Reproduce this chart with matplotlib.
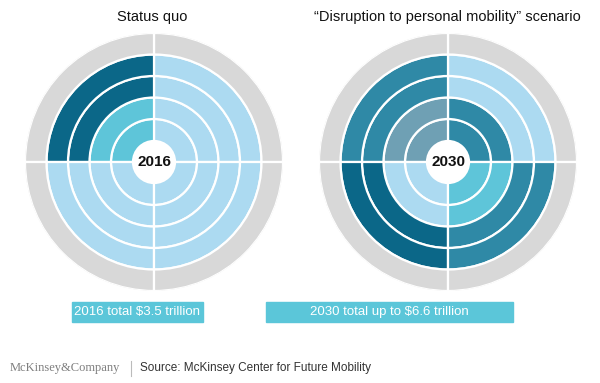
import numpy as np
import matplotlib
matplotlib.use("Agg")
import matplotlib.pyplot as plt
from matplotlib.patches import Rectangle

plt.rcParams['font.family'] = ['Liberation Sans', 'DejaVu Sans']

# quadrants (angle of the middle of each quarter, degrees) and ring edges (inner to outer)
quadrants = ['upper right', 'upper left', 'lower left', 'lower right']
quad_angles = [45, 135, 225, 315]
ring_edges = [21, 43, 64.5, 86, 107.5]
outer_edge = 129

# colour category of each ring (inner -> outer) in each quadrant
segments_2016 = [
    ['light', 'light', 'light', 'light'],   # upper right
    ['cyan', 'cyan', 'dark', 'dark'],       # upper left
    ['light', 'light', 'light', 'light'],   # lower left
    ['light', 'light', 'light', 'light'],   # lower right
]
segments_2030 = [
    ['teal', 'teal', 'light', 'light'],     # upper right
    ['slate', 'slate', 'teal', 'teal'],     # upper left
    ['light', 'light', 'dark', 'dark'],     # lower left
    ['cyan', 'cyan', 'teal', 'teal'],       # lower right
]

titles = ['Status quo', '\u201cDisruption to personal mobility\u201d scenario']
years = ['2016', '2030']
totals = ['2016 total $3.5 trillion', '2030 total up to $6.6 trillion']

palette = {
    'dark': '#0b6788',
    'teal': '#2f89a6',
    'slate': '#6fa0b4',
    'cyan': '#5ec5d9',
    'light': '#acdaf1',
}
gray = '#d8d8d8'
box_color = '#5bc6d9'

W, H = 600, 383
fig = plt.figure(figsize=(6, 3.83), dpi=100)


def px_axes(cx, cy, r):
    return [(cx - r) / W, (H - cy - r) / H, 2 * r / W, 2 * r / H]


def draw_target(cx, cy, segments, year):
    ax = fig.add_axes(px_axes(cx, cy, outer_edge), projection='polar')
    for q, angle in enumerate(quad_angles):
        th = np.deg2rad(angle)
        for i, cat in enumerate(segments[q]):
            ax.bar(th, ring_edges[i + 1] - ring_edges[i], width=np.pi / 2,
                   bottom=ring_edges[i], color=palette[cat],
                   edgecolor='white', linewidth=1.6)
        ax.bar(th, outer_edge - ring_edges[-1], width=np.pi / 2,
               bottom=ring_edges[-1], color=gray, edgecolor='white',
               linewidth=1.6)
    ax.set_ylim(0, outer_edge)
    ax.set_axis_off()
    ax.text(0, 0, year, ha='center', va='center', fontsize=11,
            fontweight='bold', color='#111111')


draw_target(154, 162, segments_2016, years[0])
draw_target(448, 162, segments_2030, years[1])

# overlay in pixel coordinates for titles, boxes and footer
ov = fig.add_axes([0, 0, 1, 1])
ov.set_xlim(0, W)
ov.set_ylim(H, 0)
ov.set_axis_off()

ov.text(152, 17, titles[0], ha='center', va='center', fontsize=10.5, color='#111111')
ov.text(447, 17, titles[1], ha='center', va='center', fontsize=10.5, color='#111111')

ov.add_patch(Rectangle((72, 302), 131, 20, color=box_color))
ov.text(137.5, 312.5, totals[0], ha='center', va='center', fontsize=9.5, color='white')
ov.add_patch(Rectangle((266, 302), 247, 20, color=box_color))
ov.text(389.5, 312.5, totals[1], ha='center', va='center', fontsize=9.5, color='white')

ov.text(10, 368, 'McKinsey&Company', ha='left', va='center', fontsize=9,
        family='Liberation Serif', color='#7f7f7f')
ov.plot([131, 131], [361, 376], color='#bbbbbb', lw=0.8)
ov.text(140, 368, 'Source: McKinsey Center for Future Mobility', ha='left',
        va='center', fontsize=8.5, color='#333333')

fig.savefig('out.png', dpi=100)
